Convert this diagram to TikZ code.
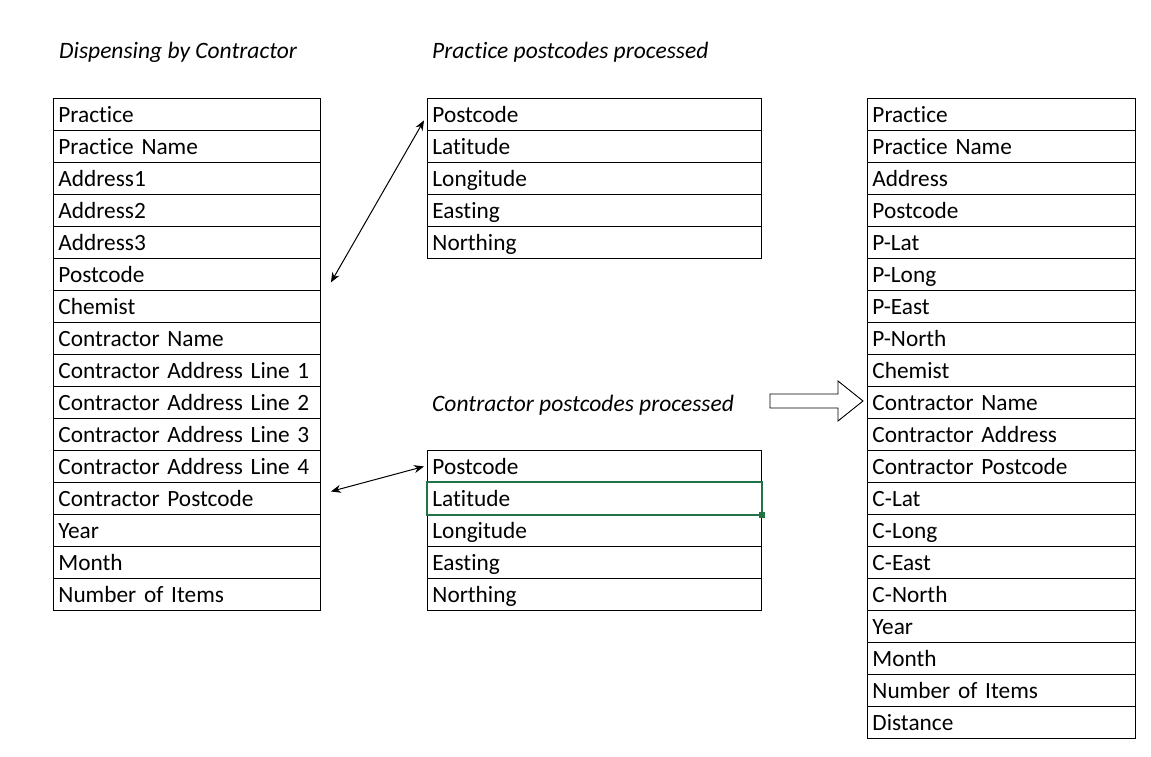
\documentclass[tikz,border=0pt]{standalone}
\usepackage{fontspec}
\setmainfont[RawFeature={-liga;-dlig;-clig}]{Carlito}
\usetikzlibrary{arrows.meta,calc}
\definecolor{xlgreen}{RGB}{33,115,70}
\begin{document}
\begin{tikzpicture}[x=1pt,y=-1pt,
  cell/.style={draw=black, line width=0.9pt, rectangle, anchor=north west, minimum height=32pt,
    inner ysep=0pt, inner xsep=5pt, text height=19pt, text depth=2pt, align=left,
    font=\fontsize{23.3}{26}\selectfont},
  ttl/.style={anchor=base west, inner sep=0pt, font=\fontsize{23.5}{26}\selectfont\itshape},
  link/.style={line width=1pt, {Stealth[length=10pt,width=8pt]}-{Stealth[length=10pt,width=8pt]}},
  hl/.style={draw=xlgreen, line width=1.8pt}
]
\useasboundingbox (0,0) rectangle (1151,756);
% titles
\node[ttl] (t1) at (59,58) {Dispensing by Contractor};
\node[ttl] (t2) at (432,58) {Practice postcodes processed};
\node[ttl] (t3) at (432,411) {Contractor postcodes processed};
% left table
\foreach \t [count=\i] in {Practice,Practice Name,Address1,Address2,Address3,Postcode,Chemist,Contractor Name,Contractor Address Line 1,Contractor Address Line 2,Contractor Address Line 3,Contractor Address Line 4,Contractor Postcode,Year,Month,Number of Items}
  \node[cell, text width=257pt] (L\i) at (53,{98+32*(\i-1)}) {\t};
% middle top table
\foreach \t [count=\i] in {Postcode,Latitude,Longitude,Easting,Northing}
  \node[cell, text width=324pt] (T\i) at (427,{98+32*(\i-1)}) {\t};
% middle bottom table
\foreach \t [count=\i] in {Postcode,Latitude,Longitude,Easting,Northing}
  \node[cell, text width=324pt] (B\i) at (427,{450+32*(\i-1)}) {\t};
% right table
\foreach \t [count=\i] in {Practice,Practice Name,Address,Postcode,P-Lat,P-Long,P-East,P-North,Chemist,Contractor Name,Contractor Address,Contractor Postcode,C-Lat,C-Long,C-East,C-North,Year,Month,Number of Items,Distance}
  \node[cell, text width=258pt] (R\i) at (867,{98+32*(\i-1)}) {\t};
% green selection
\draw[hl] (B2.north west) rectangle (B2.south east);
\fill[xlgreen] ($(B2.south east)+(-3,-3)$) rectangle ($(B2.south east)+(3,3)$);
% connectors
\coordinate (a1) at ($(L6.east)+(10,8)$);
\coordinate (a2) at ($(T1.west)+(-3,6)$);
\draw[link] (a1) -- (a2);
\coordinate (b1) at ($(L13.east)+(10,-7)$);
\coordinate (b2) at ($(B1.west)+(-3,0)$);
\draw[link] (b1) -- (b2);
% block arrow
\draw[line width=0.9pt, fill=white] (770,394) -- (838,394) -- (838,381) -- (863,401) -- (838,421) -- (838,408) -- (770,408) -- cycle;
\end{tikzpicture}
\end{document}
